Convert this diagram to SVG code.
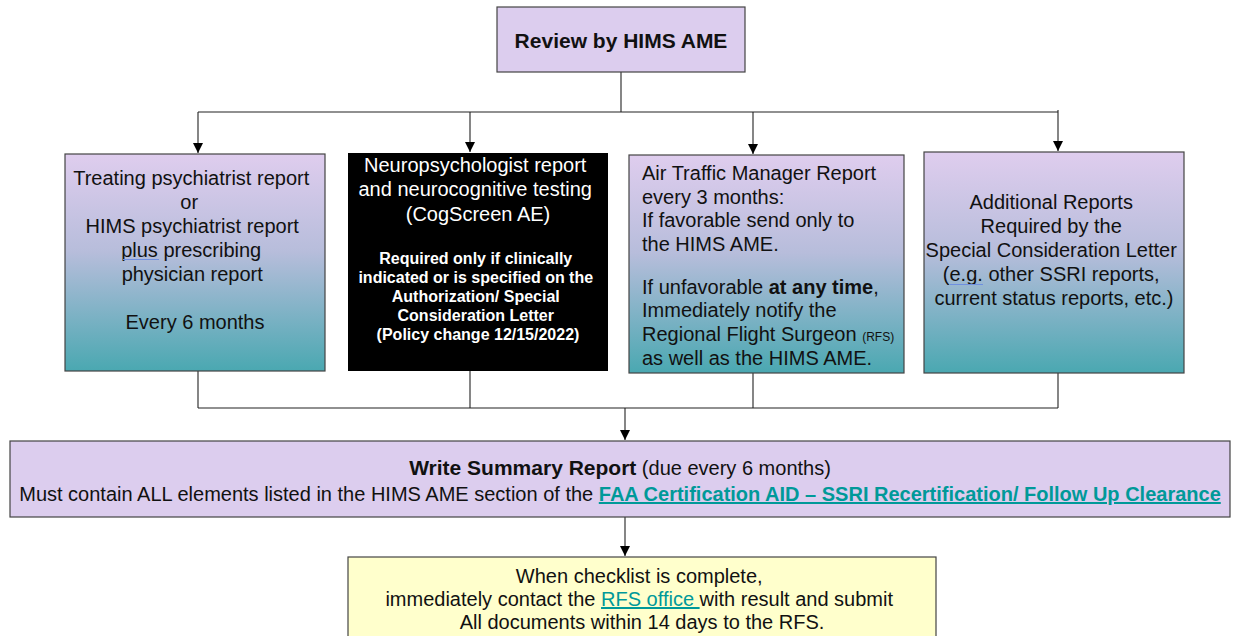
<svg xmlns="http://www.w3.org/2000/svg" width="1233" height="636" viewBox="0 0 1233 636">
<defs>
<linearGradient id="g" x1="0" y1="0" x2="0" y2="1">
<stop offset="0" stop-color="#dfcdee"/>
<stop offset="0.45" stop-color="#b7bddb"/>
<stop offset="1" stop-color="#4aa8b1"/>
</linearGradient>
<marker id="a" viewBox="0 0 10 10" refX="10" refY="5" markerWidth="10" markerHeight="10" markerUnits="userSpaceOnUse" orient="auto">
<path d="M0,0 L10,5 L0,10 z" fill="#000"/>
</marker>
</defs>
<style>
text{font-family:"Liberation Sans",Arial,sans-serif;fill:#111;}
.c{text-anchor:middle;}
.box{stroke:#444;stroke-width:1.2;}
.lav{fill:#dccdee;}
.grad{fill:url(#g);}
.ln{fill:none;stroke:#222;stroke-width:1.1;}
.lnar{fill:none;stroke:#222;stroke-width:1.1;marker-end:url(#a);}
.w{fill:#fff;}
.lnk{fill:#009999;text-decoration:underline;}
.sq{fill:none;stroke:#6f8fe0;stroke-width:1;}
</style>
<rect width="1233" height="636" fill="#fff"/>
<g id="connectors">
<path class="ln" d="M621,72 V112"/>
<path class="ln" d="M198,112 H1058"/>
<path class="lnar" d="M198,112 V153"/>
<path class="lnar" d="M470,112 V152"/>
<path class="lnar" d="M753,112 V154"/>
<path class="lnar" d="M1058,110 V151"/>
<path class="ln" d="M198,371 V408"/>
<path class="ln" d="M470,371 V408"/>
<path class="ln" d="M753,373 V408"/>
<path class="ln" d="M1058,373 V408"/>
<path class="ln" d="M198,408 H1058"/>
<path class="lnar" d="M625,408 V440"/>
<path class="lnar" d="M625,517 V556"/>
</g>
<g id="review">
<rect class="box lav" x="497" y="7" width="248" height="65"/>
<text class="c" x="621" y="48" font-size="21" font-weight="bold">Review by HIMS AME</text>
</g>
<g id="psychiatrist">
<rect class="box grad" x="65" y="154" width="260" height="217"/>
<text class="c" font-size="20">
<tspan x="194" y="185">Treating psychiatrist report</tspan>
<tspan x="192" y="209">or</tspan>
<tspan x="195" y="233">HIMS psychiatrist report</tspan>
<tspan x="194" y="257">plus prescribing</tspan>
<tspan x="195" y="281">physician report</tspan>
<tspan x="195" y="329">Every 6 months</tspan>
</text>
<path class="sq" d="M123,259.5 h36"/>
</g>
<g id="neuro">
<rect x="348" y="153" width="260" height="218" fill="#000"/>
<text class="c w" font-size="20">
<tspan x="478" y="172">Neuropsychologist report</tspan>
<tspan x="478" y="196">and neurocognitive testing</tspan>
<tspan x="478" y="221">(CogScreen AE)</tspan>
</text>
<text class="c w" font-size="16" font-weight="bold">
<tspan x="478" y="264">Required only if clinically</tspan>
<tspan x="478" y="283">indicated or is specified on the</tspan>
<tspan x="478" y="302">Authorization/ Special</tspan>
<tspan x="478" y="321">Consideration Letter</tspan>
<tspan x="478" y="340">(Policy change 12/15/2022)</tspan>
</text>
</g>
<g id="atc">
<rect class="box grad" x="629" y="155" width="275" height="218"/>
<text font-size="20">
<tspan x="642" y="180">Air Traffic Manager Report</tspan>
<tspan x="642" y="204">every 3 months:</tspan>
<tspan x="642" y="227">If favorable send only to</tspan>
<tspan x="642" y="251">the HIMS AME.</tspan>
<tspan x="642" y="294">If unfavorable <tspan font-weight="bold">at any time</tspan>,</tspan>
<tspan x="642" y="317">Immediately notify the</tspan>
<tspan x="642" y="341">Regional Flight Surgeon <tspan font-size="12">(RFS)</tspan></tspan>
<tspan x="642" y="365">as well as the HIMS AME.</tspan>
</text>
</g>
<g id="additional">
<rect class="box grad" x="924" y="152" width="260" height="221"/>
<text class="c" font-size="20">
<tspan x="1054" y="209">Additional Reports</tspan>
<tspan x="1054" y="233">Required by the</tspan>
<tspan x="1054" y="257">Special Consideration Letter</tspan>
<tspan x="1054" y="281">(e.g. other SSRI reports,</tspan>
<tspan x="1054" y="305">current status reports, etc.)</tspan>
</text>
<path class="sq" d="M950,284.5 h33"/>
</g>
<g id="summary">
<rect class="box lav" x="10" y="441" width="1220" height="76"/>
<text class="c" x="620" y="475" font-size="20"><tspan font-weight="bold" font-size="21">Write Summary Report</tspan> (due every 6 months)</text>
<text class="c" x="620" y="501" font-size="20">Must contain ALL elements listed in the HIMS AME section of the <tspan class="lnk" font-weight="bold">FAA Certification AID – SSRI Recertification/ Follow Up Clearance</tspan></text>
</g>
<g id="checklist">
<rect class="box" x="348" y="557" width="588" height="85" fill="#ffffcc"/>
<text class="c" font-size="20">
<tspan x="642" y="583">When checklist is complete,</tspan>
<tspan x="642" y="606">immediately contact the <tspan class="lnk">RFS office </tspan>with result and submit</tspan>
<tspan x="642" y="629">All documents within 14 days to the RFS.</tspan>
</text>
</g>
</svg>
